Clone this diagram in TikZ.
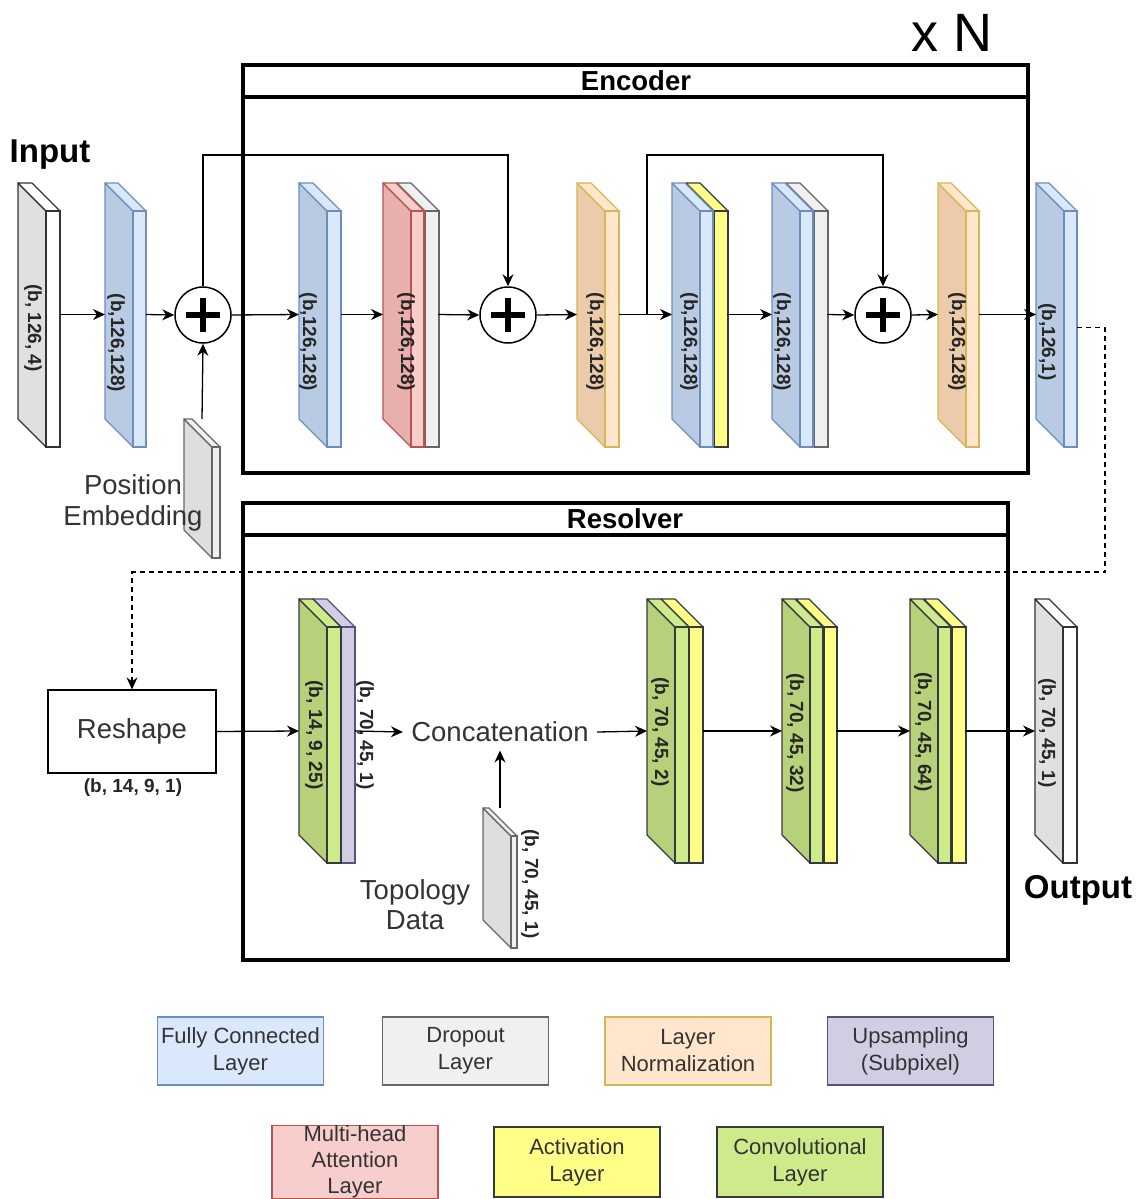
\documentclass[tikz,border=0pt]{standalone}
\usepackage{fontspec}
\setmainfont{Liberation Sans}
\usetikzlibrary{arrows.meta}
\definecolor{fcF}{HTML}{DAE8FC}\definecolor{fcS}{HTML}{B9CAE3}\definecolor{fcD}{HTML}{6C8EBF}
\definecolor{dpF}{HTML}{F0F0F0}\definecolor{dpS}{HTML}{DEDEDE}\definecolor{dpD}{HTML}{666666}
\definecolor{lnF}{HTML}{FFE6CC}\definecolor{lnS}{HTML}{EBCBA9}\definecolor{lnD}{HTML}{D6B656}
\definecolor{maF}{HTML}{F8CECC}\definecolor{maS}{HTML}{E8B0AD}\definecolor{maD}{HTML}{B85450}
\definecolor{acF}{HTML}{FFFF88}\definecolor{acD}{HTML}{36393D}
\definecolor{cvF}{HTML}{CDEB8B}\definecolor{cvS}{HTML}{B6D17A}\definecolor{cvD}{HTML}{36393D}
\definecolor{upF}{HTML}{D0CEE2}\definecolor{upD}{HTML}{56517E}
\definecolor{ioS}{HTML}{E0E0E0}\definecolor{txt}{HTML}{333333}
% slab: #1 xb, #2 yt, #3 front width, #4 front height, #5 front fill, #6 side fill, #7 stroke
\newcommand\slab[7]{%
  \filldraw[draw=#7,fill=#6,line width=0.6pt,line join=round] (#1,#2) -- ({#1+28},{#2+28}) -- ({#1+28},{#2+28+#4}) -- (#1,{#2+#4}) -- cycle;
  \filldraw[draw=#7,fill=#5,line width=0.6pt,line join=round] (#1,#2) -- ({#1+#3},#2) -- ({#1+28+#3},{#2+28}) -- ({#1+28},{#2+28}) -- cycle;
  \filldraw[draw=#7,fill=#5,line width=0.6pt] ({#1+28},{#2+28}) rectangle ({#1+28+#3},{#2+28+#4});
}
% slabnode: #1 name, #2 xb, #3 yt, #4 total width, #5 total height
\newcommand\slabnode[5]{%
  \node[inner sep=0pt,outer sep=0pt,minimum width={#4*0.5pt},minimum height={#5*0.5pt}] (#1) at ({#2+#4/2},{#3+#5/2}) {};
}
\begin{document}
\begin{tikzpicture}[x=0.5pt,y=-0.5pt,
  arr/.style={-{Stealth[length=6pt,width=5.5pt]},line width=0.65pt},
  lab/.style={rotate=-90,font=\fontsize{9.5}{11}\selectfont\bfseries,inner sep=0pt,text=black!85},
  plain/.style={font=\fontsize{13.75}{16}\selectfont,text=txt,align=center,inner sep=0pt},
  ttl/.style={font=\fontsize{13.75}{16}\selectfont\bfseries,inner sep=0pt},
  plus/.style={circle,draw,line width=0.75pt,minimum size=28pt,inner sep=0pt,fill=white},
  leg/.style={draw,line width=0.6pt,minimum width=83pt,minimum height=34pt,align=center,font=\fontsize{11}{13.5}\selectfont,text=txt,inner sep=0pt},
  frame/.style={draw,line width=1.8pt}]
\useasboundingbox (0,0) rectangle (1136,1199);
\fill[white] (0,0) rectangle (1136,1199);

% ---------- frames ----------
\draw[frame] (243,65) rectangle (1028,473);
\draw[frame] (243,97) -- (1028,97);
\node[ttl] (enct) at (636,81) {Encoder};
\draw[frame] (243,503) rectangle (1008,960);
\draw[frame] (243,535) -- (1008,535);
\node[ttl] (rest) at (625,519) {Resolver};

\node[font=\fontsize{27}{30}\selectfont,inner sep=0pt] (xn) at (952,33) {x N};
\node[font=\fontsize{16.5}{19}\selectfont\bfseries,inner sep=0pt] (inlab) at (50,155) {Input};
\node[font=\fontsize{16.5}{19}\selectfont\bfseries,inner sep=0pt] (outlab) at (1078,890) {Output};

% ---------- encoder row ----------
\slab{18}{183}{14}{236}{white}{ioS}{black!80}
\slabnode{inp}{18}{183}{42}{263}
\slab{105}{183}{13}{236}{fcF}{fcS}{fcD}
\slabnode{fc1}{105}{183}{41}{263}
\node[plus] (p1) at (203,315) {};
\slab{299}{183}{14}{236}{fcF}{fcS}{fcD}
\slabnode{efc}{299}{183}{42}{263}
\slab{397}{183}{14}{236}{dpF}{dpS}{dpD}
\slab{383}{183}{13}{236}{maF}{maS}{maD}
\slabnode{mha}{383}{183}{55}{263}
\node[plus] (p2) at (508,315) {};
\slab{577}{183}{14}{236}{lnF}{lnS}{lnD}
\slabnode{ln1}{577}{183}{42}{263}
\slab{686}{183}{14}{236}{acF}{acF}{acD}
\slab{672}{183}{13}{236}{fcF}{fcS}{fcD}
\slabnode{fca}{672}{183}{55}{263}
\slab{786}{183}{14}{236}{dpF}{dpS}{dpD}
\slab{772}{183}{13}{236}{fcF}{fcS}{fcD}
\slabnode{fcd}{772}{183}{55}{263}
\node[plus] (p3) at (883,315) {};
\slab{938}{183}{13}{236}{lnF}{lnS}{lnD}
\slabnode{ln2}{938}{183}{41}{263}
\slab{1036}{183}{13}{236}{fcF}{fcS}{fcD}
\slabnode{fco}{1036}{183}{41}{263}

\foreach \c in {p1,p2,p3}{
  \draw[line width=2.7pt] ([xshift=-8.3pt]\c.center) -- ([xshift=8.3pt]\c.center);
  \draw[line width=2.7pt] ([yshift=-8.3pt]\c.center) -- ([yshift=8.3pt]\c.center);
}

\node[lab] at (33,328) {(b, 126, 4)};
\node[lab] at (116,343) {(b,126,128)};
\node[lab] at (308,342) {(b,126,128)};
\node[lab] at (406,342) {(b,126,128)};
\node[lab] at (595,342) {(b,126,128)};
\node[lab] at (689,342) {(b,126,128)};
\node[lab] at (782,342) {(b,126,128)};
\node[lab] at (957,342) {(b,126,128)};
\node[lab] at (1047,342) {(b,126,1)};

% position embedding
\slab{184}{419}{8}{111}{dpF}{dpS}{dpD}
\slabnode{pe}{184}{419}{36}{139}
\node[plain] (petxt) at (133,503) {Position\\[-0.6pt]Embedding};

\coordinate (top) at (0,155);
\coordinate (br) at (647,315);

\draw[arr] (inp.east) -- (fc1.west);
\draw[arr] (fc1.east) -- (p1.west);
\draw[arr] (p1.east) -- (efc.west);
\draw[arr] (efc.east) -- (mha.west);
\draw[arr] (mha.east) -- (p2.west);
\draw[arr] (p2.east) -- (ln1.west);
\draw[arr] (ln1.east) -- (fca.west);
\draw[arr] (fca.east) -- (fcd.west);
\draw[arr] (fcd.east) -- (p3.west);
\draw[arr] (p3.east) -- (ln2.west);
\draw[arr] (ln2.east) -- (fco.west);
\draw[arr] (p1.north) -- (p1.north |- top) -| (p2.north);
\draw[arr] (br) -- (br |- top) -| (p3.north);
\draw[arr] (pe.north) -- (p1.south);

% ---------- resolver ----------
\node[draw,line width=0.6pt,minimum width=84pt,minimum height=41.5pt,inner sep=0pt] (resh) at (132,731.5) {};
\node[plain] at (resh.center) {Reshape};
\node[lab,rotate=90] (reshlab) at (133,788) {(b, 14, 9, 1)};

\slab{313}{599}{14}{236}{upF}{upF}{upD}
\slab{299}{599}{14}{236}{cvF}{cvS}{cvD}
\slabnode{rc1}{299}{599}{56}{264}
\node[plain,inner sep=4pt] (cat) at (500,732) {Concatenation};

\slab{483}{808}{6}{112}{dpF}{dpS}{dpD}
\slabnode{topo}{483}{808}{34}{140}
\node[plain] (topotxt) at (415,905) {Topology\\[-1pt]Data};

\slab{661}{599}{14}{236}{acF}{acF}{acD}
\slab{647}{599}{14}{236}{cvF}{cvS}{cvD}
\slabnode{rc2}{647}{599}{56}{264}
\slab{796}{599}{13}{236}{acF}{acF}{acD}
\slab{782}{599}{13}{236}{cvF}{cvS}{cvD}
\slabnode{rc3}{782}{599}{54}{264}
\slab{924}{599}{14}{236}{acF}{acF}{acD}
\slab{910}{599}{13}{236}{cvF}{cvS}{cvD}
\slabnode{rc4}{910}{599}{55}{264}
\slab{1035}{599}{14}{236}{white}{ioS}{black!80}
\slabnode{outb}{1035}{599}{42}{264}

\node[lab] at (314,735) {(b, 14, 9, 25)};
\node[lab] at (365,735) {(b, 70, 45, 1)};
\node[lab] at (530,884) {(b, 70, 45, 1)};
\node[lab] at (660,732) {(b, 70, 45, 2)};
\node[lab] at (795,733) {(b, 70, 45, 32)};
\node[lab] at (923,732) {(b, 70, 45, 64)};
\node[lab] at (1047,733) {(b, 70, 45, 1)};

\draw[arr] (resh.east) -- (rc1.west);
\draw[arr] (rc1.east) -- (cat.west);
\draw[arr] (cat.east) -- (rc2.west);
\draw[arr] (topo.north) -- (cat.south);
\draw[arr] (rc2.east) -- (rc3.west);
\draw[arr] (rc3.east) -- (rc4.west);
\draw[arr] (rc4.east) -- (outb.west);

\coordinate (dcorner) at (1105,572);
\draw[arr,dash pattern=on 2.5pt off 2pt] ([yshift=-6.5pt]fco.east) -| (dcorner) -| (resh.north);

% ---------- legend ----------
\node[leg,fill=fcF,draw=fcD] (lfc) at (240.5,1051) {Fully Connected\\Layer};
\node[leg,fill=dpF,draw=dpD] (ldp) at (465.5,1051) {Dropout\\Layer};
\node[leg,fill=lnF,draw=lnD] (lln) at (688,1051) {Layer\\Normalization};
\node[leg,fill=upF,draw=upD] (lup) at (910.5,1051) {Upsampling\\(Subpixel)};
\node[leg,fill=maF,draw=maD,minimum height=35pt,font=\fontsize{11}{13}\selectfont] (lma) at (355,1162) {Multi-head\\Attention\\Layer};
\node[leg,fill=acF,draw=acD,minimum height=35pt] (lac) at (577,1162) {Activation\\Layer};
\node[leg,fill=cvF,draw=cvD,minimum height=35pt] (lcv) at (800,1162) {Convolutional\\Layer};
\end{tikzpicture}
\end{document}
